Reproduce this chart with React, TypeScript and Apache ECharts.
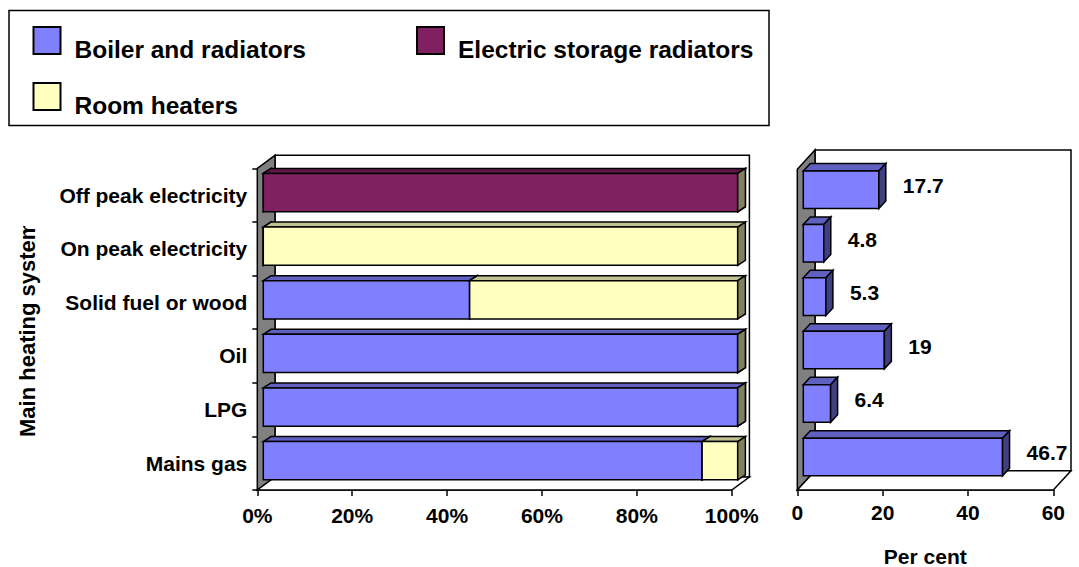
import { useEffect, useRef } from 'react';
import * as echarts from 'echarts';

// Heating systems, listed bottom to top
const categories = [
  'Mains gas',
  'LPG',
  'Oil',
  'Solid fuel or wood',
  'On peak electricity',
  'Off peak electricity',
];

// Share of each heating system's homes by emitter type (per cent, stacked to 100)
const boilerShare = [92.5, 100, 100, 43.5, 0, 0];
const storageShare = [0, 0, 0, 0, 0, 100];
const roomHeaterShare = [7.5, 0, 0, 56.5, 100, 0];

// Share of all homes using each heating system (per cent)
const perCent = [46.7, 6.4, 19, 5.3, 4.8, 17.7];

const seriesNames = ['Boiler and radiators', 'Electric storage radiators', 'Room heaters'];

const FONT = '"Liberation Sans", Arial, Helvetica, sans-serif';

// Face colours: front, top, side
const PALETTE = {
  blue: { front: '#8080FF', top: '#6060C0', side: '#404080' },
  plum: { front: '#802060', top: '#601848', side: '#401030' },
  cream: { front: '#FFFFC0', top: '#C0C090', side: '#808060' },
};

type Depth = { dx: number; dy: number };
type BarGeom = { ox: number; oy: number; ratio: number; bx: number; by: number };

const OUTLINE = { stroke: '#000', lineWidth: 1.5 };

// Back wall, side wall and floor of a pseudo-3D plot box
const wallRenderer = (d: Depth) => (params: any) => {
  const { x, y, width: w, height: h } = params.coordSys;
  const { dx, dy } = d;
  return {
    type: 'group',
    children: [
      { type: 'rect', shape: { x: x + dx, y: y - dy, width: w, height: h }, style: { fill: '#fff', ...OUTLINE } },
      {
        type: 'polygon',
        shape: { points: [[x, y + h], [x, y], [x + dx, y - dy], [x + dx, y + h - dy]] },
        style: { fill: '#808080', ...OUTLINE },
      },
      {
        type: 'polygon',
        shape: { points: [[x, y + h], [x + w, y + h], [x + w + dx, y + h - dy], [x + dx, y + h - dy]] },
        style: { fill: '#fff', ...OUTLINE },
      },
    ],
  };
};

// A horizontal box bar spanning [start, end] on the value axis
const barRenderer =
  (g: BarGeom, colors: { front: string; top: string; side: string }, withLabel: boolean) =>
  (_params: any, api: any) => {
    const start = api.value(0);
    const end = api.value(1);
    const cat = api.value(2);
    const p0 = api.coord([start, cat]);
    const p1 = api.coord([end, cat]);
    const band = api.size([0, 1])[1];
    const h = band * g.ratio;
    const x0 = p0[0] + g.ox;
    const x1 = p1[0] + g.ox;
    const yc = p0[1] + g.oy;
    const yt = yc - h / 2;
    const yb = yc + h / 2;
    const children: any[] = [];
    if (x1 - x0 > 0.01) {
      children.push({
        type: 'polygon',
        shape: { points: [[x0, yt], [x0 + g.bx, yt - g.by], [x1 + g.bx, yt - g.by], [x1, yt]] },
        style: { fill: colors.top, ...OUTLINE },
      });
      children.push({
        type: 'rect',
        shape: { x: x0, y: yt, width: x1 - x0, height: h },
        style: { fill: colors.front, ...OUTLINE },
      });
    }
    children.push({
      type: 'polygon',
      shape: { points: [[x1, yt], [x1 + g.bx, yt - g.by], [x1 + g.bx, yb - g.by], [x1, yb]] },
      style: { fill: colors.side, ...OUTLINE },
    });
    if (withLabel) {
      children.push({
        type: 'text',
        style: {
          text: String(end),
          x: x1 + 24,
          y: yc - 4,
          align: 'left',
          verticalAlign: 'middle',
          fontSize: 21,
          fontWeight: 'bold',
          fontFamily: FONT,
          fill: '#000',
        },
      });
    }
    return { type: 'group', children };
  };

const LEFT_DEPTH: Depth = { dx: 17.7, dy: 13 };
const RIGHT_DEPTH: Depth = { dx: 17.7, dy: 19.3 };
const LEFT_BAR: BarGeom = { ox: 6, oy: -2.5, ratio: 0.714, bx: 7.7, by: 5 };
const RIGHT_BAR: BarGeom = { ox: 6, oy: -6.3, ratio: 0.703, bx: 7, by: 7.5 };

function buildOption() {
  const shares = [boilerShare, storageShare, roomHeaterShare];
  const colorSets = [PALETTE.blue, PALETTE.plum, PALETTE.cream];
  const running = categories.map(() => 0);
  const stacked = shares.map((values, s) => {
    const data = values.map((v, i) => {
      const from = running[i];
      running[i] += v;
      return [from, running[i], i];
    });
    return {
      type: 'custom',
      name: seriesNames[s],
      xAxisIndex: 0,
      yAxisIndex: 0,
      z: 3,
      itemStyle: { color: colorSets[s].front, borderColor: '#000', borderWidth: 1.5 },
      encode: { x: [0, 1], y: 2 },
      renderItem: barRenderer(LEFT_BAR, colorSets[s], false),
      data,
    };
  });

  const textBase = { color: '#000', fontFamily: FONT, fontWeight: 'bold' as const };
  const axisLine = { show: true, lineStyle: { color: '#000', width: 1.5 } };

  // Legend labels sit a little below the centre of their key squares
  const legendCommon = {
    left: 32.5,
    padding: 0,
    itemWidth: 27,
    itemHeight: 27,
    icon: 'rect',
    selectedMode: false,
    formatter: (name: string) => `{gap| }\n{lbl|${name}}`,
    textStyle: {
      ...textBase,
      rich: {
        gap: { fontSize: 10, height: 17, lineHeight: 17 },
        lbl: { ...textBase, fontSize: 24.5, lineHeight: 28, width: 320, padding: [0, 0, 0, 9] },
      },
    },
  };

  return {
    animation: false,
    backgroundColor: '#fff',
    textStyle: { fontFamily: FONT },
    legend: [
      { ...legendCommon, data: [seriesNames[0], seriesNames[1]], top: 18, itemGap: 21.5 },
      { ...legendCommon, data: [seriesNames[2]], top: 74 },
    ],
    grid: [
      { left: 257.3, top: 168.3, width: 474.4, height: 321.7, outerBoundsMode: 'none' },
      { left: 797.3, top: 169.3, width: 256, height: 320.7, outerBoundsMode: 'none' },
    ],
    xAxis: [
      {
        gridIndex: 0,
        type: 'value',
        min: 0,
        max: 100,
        interval: 20,
        splitLine: { show: false },
        axisLine,
        axisTick: { show: true, length: 6, lineStyle: { color: '#000', width: 1.5 } },
        axisLabel: { ...textBase, fontSize: 21, margin: 15, formatter: '{value}%' },
      },
      {
        gridIndex: 1,
        type: 'value',
        min: 0,
        max: 60,
        interval: 20,
        splitLine: { show: false },
        axisLine,
        axisTick: { show: true, length: 6, lineStyle: { color: '#000', width: 1.5 } },
        axisLabel: { ...textBase, fontSize: 21, margin: 12 },
        name: 'Per cent',
        nameLocation: 'middle',
        nameGap: 56,
        nameTextStyle: { ...textBase, fontSize: 21 },
      },
    ],
    yAxis: [
      {
        gridIndex: 0,
        type: 'category',
        data: categories,
        axisLine,
        axisTick: { show: true, length: 5, lineStyle: { color: '#000', width: 1.5 } },
        axisLabel: { ...textBase, fontSize: 21, margin: 10, padding: [7, 0, 0, 0] },
      },
      {
        gridIndex: 1,
        type: 'category',
        data: categories,
        axisLine,
        axisTick: { show: false },
        axisLabel: { show: false },
      },
    ],
    graphic: [
      {
        type: 'rect',
        shape: { x: 9, y: 10.5, width: 760, height: 115 },
        style: { fill: 'none', stroke: '#000', lineWidth: 1.5 },
        z: 10,
      },
      {
        type: 'text',
        x: 27.5,
        y: 328.8,
        rotation: Math.PI / 2,
        z: 50,
        style: {
          text: 'Main heating system',
          align: 'center',
          verticalAlign: 'middle',
          fontSize: 22,
          fontWeight: 'bold',
          fontFamily: FONT,
          fill: '#000',
        },
      },
      {
        // the chart area ends just above the title, trimming its last letter
        type: 'rect',
        shape: { x: 10, y: 150, width: 35, height: 76 },
        style: { fill: '#fff' },
        z: 100,
      },
    ],
    series: [
      {
        type: 'custom',
        name: 'wall-left',
        xAxisIndex: 0,
        yAxisIndex: 0,
        z: 1,
        silent: true,
        renderItem: wallRenderer(LEFT_DEPTH),
        data: [[0, 0]],
      },
      {
        type: 'custom',
        name: 'wall-right',
        xAxisIndex: 1,
        yAxisIndex: 1,
        z: 1,
        silent: true,
        renderItem: wallRenderer(RIGHT_DEPTH),
        data: [[0, 0]],
      },
      ...stacked,
      {
        type: 'custom',
        name: 'Per cent',
        xAxisIndex: 1,
        yAxisIndex: 1,
        z: 3,
        encode: { x: [0, 1], y: 2 },
        renderItem: barRenderer(RIGHT_BAR, PALETTE.blue, true),
        data: perCent.map((v, i) => [0, v, i]),
      },
    ],
  };
}

export default function App() {
  const ref = useRef<HTMLDivElement>(null);
  useEffect(() => {
    if (!ref.current) return;
    const chart = echarts.init(ref.current, undefined, { renderer: 'svg' });
    chart.setOption(buildOption() as any);
    return () => chart.dispose();
  }, []);
  return (
    <div
      ref={ref}
      style={{ position: 'fixed', left: 0, top: 0, width: 1079, height: 567, background: '#fff' }}
    />
  );
}
